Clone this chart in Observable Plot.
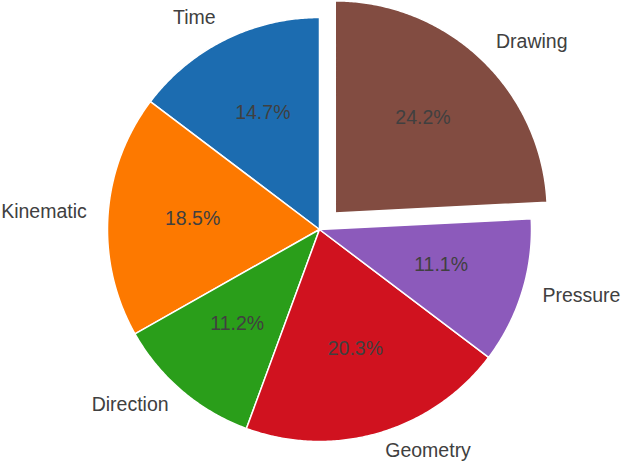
<!DOCTYPE html>
<html>
<head>
<meta charset="utf-8">
<script src="https://cdn.jsdelivr.net/npm/d3@7"></script>
<script src="https://cdn.jsdelivr.net/npm/@observablehq/plot@0.6"></script>
<style>
  html, body { margin: 0; padding: 0; background: #fff; }
  #chart svg { display: block; }
</style>
</head>
<body>
<div id="chart"></div>
<script>
const labels = ["Time", "Kinematic", "Direction", "Geometry", "Pressure", "Drawing"];
const values = [14.7, 18.5, 11.2, 20.3, 11.1, 24.2];
const colors = ["#1c6cb0", "#fd7900", "#2a9e1a", "#d0121f", "#8c5abb", "#824c41"];
const explode = [0, 0, 0, 0, 0, 0.108];

const W = 622, H = 464;
const cx = 319, cy = 229, R = 212;
const startAngle = 90;
const total = d3.sum(values);

// build wedge polygons in unit coordinates
const wedgePts = [];
const pctPts = [];
const labelPts = [];
let acc = 0;
values.forEach((v, i) => {
  const a0 = startAngle + acc / total * 360;
  const a1 = a0 + v / total * 360;
  acc += v;
  const mid = (a0 + a1) / 2 * Math.PI / 180;
  const ox = explode[i] * Math.cos(mid), oy = explode[i] * Math.sin(mid);
  wedgePts.push({label: labels[i], x: ox, y: oy});
  const n = Math.max(2, Math.ceil((a1 - a0) / 0.5));
  for (let k = 0; k <= n; k++) {
    const a = (a0 + (a1 - a0) * k / n) * Math.PI / 180;
    wedgePts.push({label: labels[i], x: ox + Math.cos(a), y: oy + Math.sin(a)});
  }
  pctPts.push({text: v.toFixed(1) + "%", x: ox + 0.6 * Math.cos(mid), y: oy + 0.6 * Math.sin(mid)});
  labelPts.push({text: labels[i], x: ox + 1.1 * Math.cos(mid), y: oy + 1.1 * Math.sin(mid)});
});

const textStyle = {fontSize: 19.5, fill: "#404040", dy: -2.5};

const chart = Plot.plot({
  width: W,
  height: H,
  margin: 0,
  x: {domain: [-cx / R, (W - cx) / R], axis: null},
  y: {domain: [-(H - cy) / R, cy / R], axis: null},
  color: {domain: labels, range: colors},
  style: {fontFamily: "'Liberation Sans', Arial, sans-serif", background: "#fff"},
  marks: [
    Plot.line(wedgePts, {x: "x", y: "y", z: "label", fill: "label", stroke: "#fff", strokeWidth: 1.5, curve: "linear-closed", strokeLinejoin: "round"}),
    Plot.text(pctPts, {x: "x", y: "y", text: "text", ...textStyle}),
    Plot.text(labelPts.filter(d => d.x >= 0), {x: "x", y: "y", text: "text", textAnchor: "start", ...textStyle}),
    Plot.text(labelPts.filter(d => d.x < 0), {x: "x", y: "y", text: "text", textAnchor: "end", ...textStyle})
  ]
});
document.getElementById("chart").append(chart);
</script>
</body>
</html>
